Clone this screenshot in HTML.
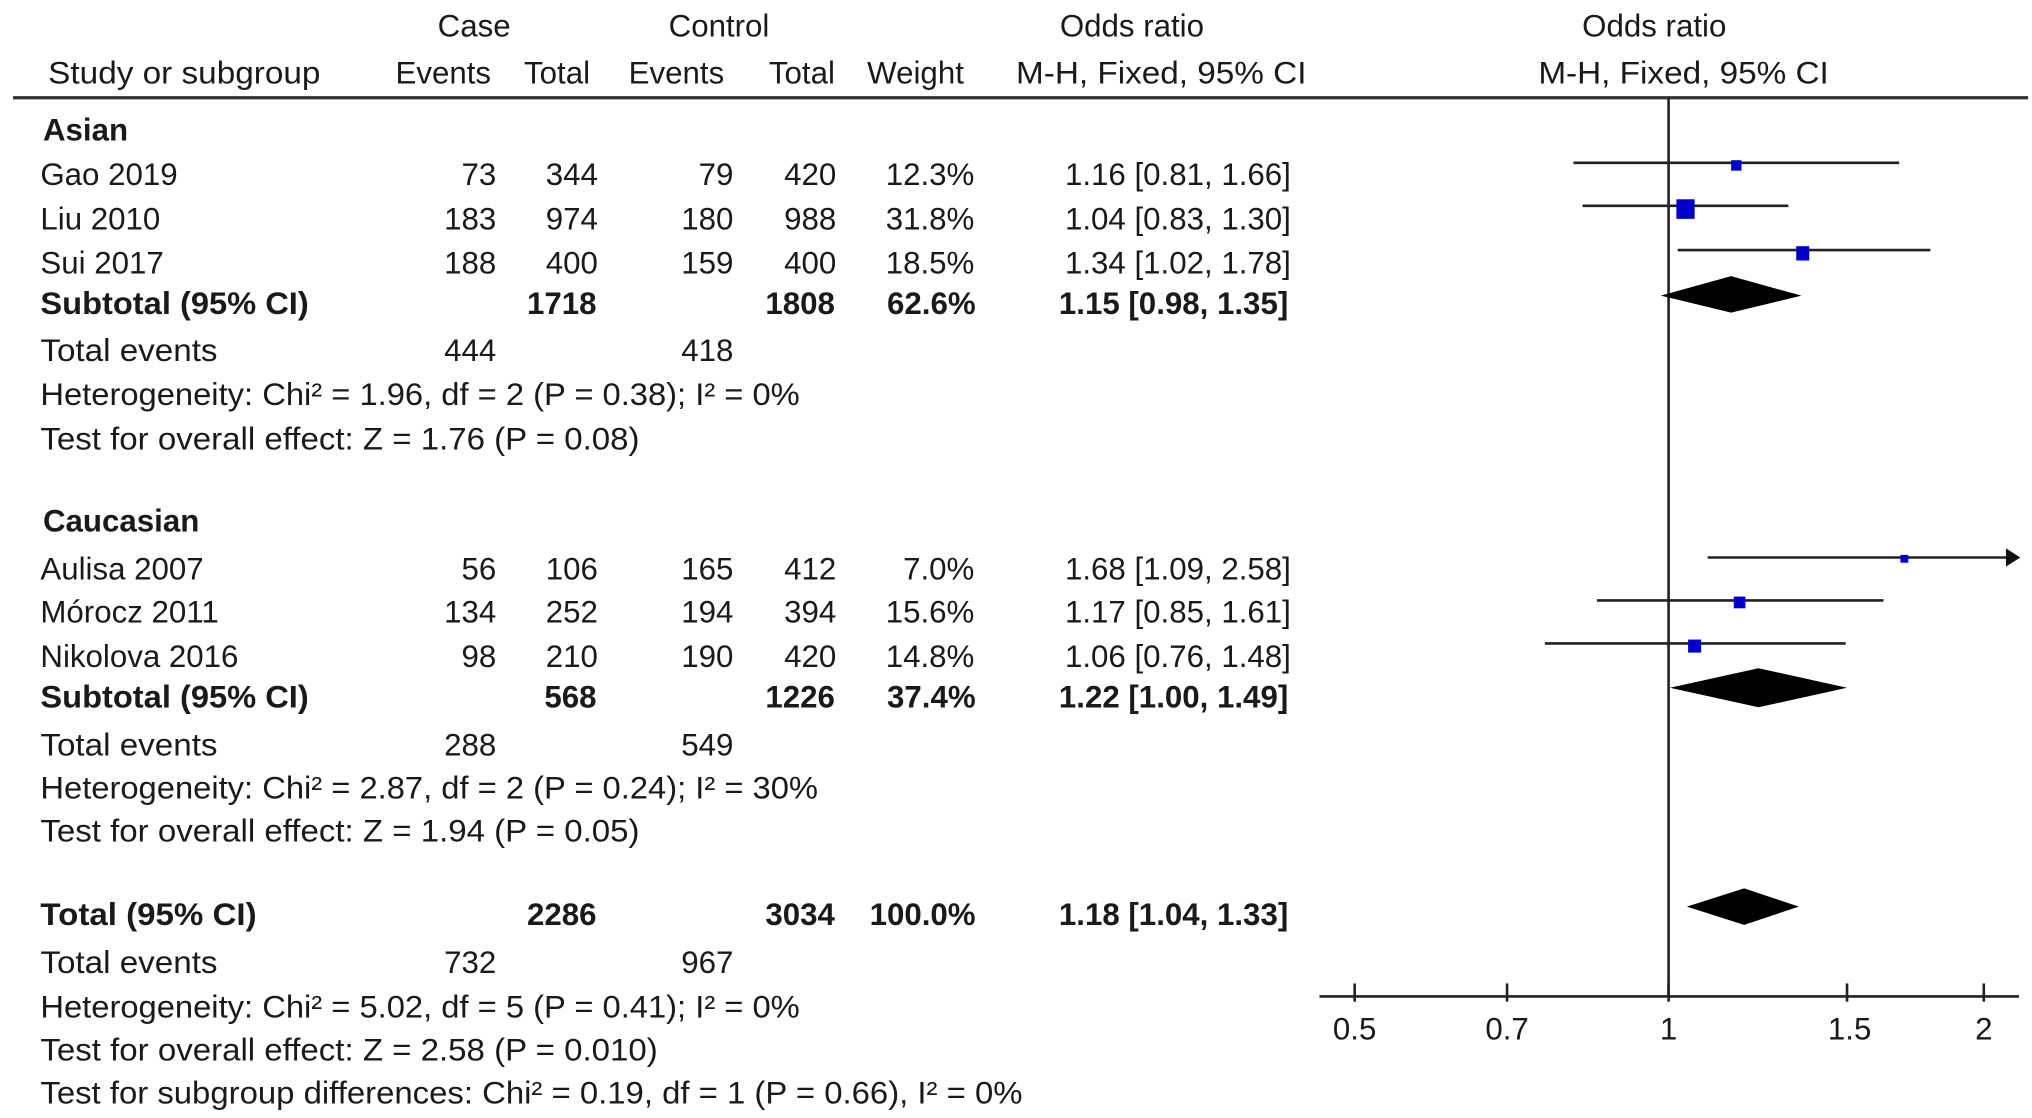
<!DOCTYPE html>
<html><head><meta charset="utf-8"><style>
html,body{margin:0;padding:0;background:#fff;}
svg{display:block;}
text{font-family:"Liberation Sans",Arial,sans-serif;font-size:24px;fill:#1a1a1a;}
.b{font-weight:bold;}
.e{text-anchor:end;}
.m{text-anchor:middle;}
</style></head><body>
<svg width="2032" height="1118" viewBox="0 0 1560 858.3" preserveAspectRatio="none" xmlns="http://www.w3.org/2000/svg">
<!-- header -->
<text class="m" x="364" y="28">Case</text>
<text class="m" x="552" y="28">Control</text>
<text class="m" x="869" y="28">Odds ratio</text>
<text class="m" x="1270" y="28">Odds ratio</text>
<text x="37" y="64" textLength="209" lengthAdjust="spacingAndGlyphs">Study or subgroup</text>
<text class="e" x="377" y="64">Events</text>
<text class="e" x="453" y="64">Total</text>
<text class="e" x="556" y="64">Events</text>
<text class="e" x="641" y="64">Total</text>
<text class="e" x="740" y="64">Weight</text>
<text x="780" y="64" textLength="223" lengthAdjust="spacingAndGlyphs">M-H, Fixed, 95% CI</text>
<text x="1181" y="64" textLength="223" lengthAdjust="spacingAndGlyphs">M-H, Fixed, 95% CI</text>
<line x1="10" y1="75" x2="1557" y2="75" stroke="#333" stroke-width="2.5"/>

<!-- Asian -->
<text class="b" x="33" y="108">Asian</text>
<text x="31" y="142">Gao 2019</text><text class="e" x="381" y="142">73</text><text class="e" x="459" y="142">344</text><text class="e" x="563" y="142">79</text><text class="e" x="642" y="142">420</text><text class="e" x="748" y="142">12.3%</text><text class="e" x="991" y="142">1.16 [0.81, 1.66]</text>
<text x="31" y="176">Liu 2010</text><text class="e" x="381" y="176">183</text><text class="e" x="459" y="176">974</text><text class="e" x="563" y="176">180</text><text class="e" x="642" y="176">988</text><text class="e" x="748" y="176">31.8%</text><text class="e" x="991" y="176">1.04 [0.83, 1.30]</text>
<text x="31" y="210">Sui 2017</text><text class="e" x="381" y="210">188</text><text class="e" x="459" y="210">400</text><text class="e" x="563" y="210">159</text><text class="e" x="642" y="210">400</text><text class="e" x="748" y="210">18.5%</text><text class="e" x="991" y="210">1.34 [1.02, 1.78]</text>
<text class="b" x="31" y="241" textLength="206" lengthAdjust="spacingAndGlyphs">Subtotal (95% CI)</text><text class="b e" x="458" y="241">1718</text><text class="b e" x="641" y="241">1808</text><text class="b e" x="749" y="241">62.6%</text><text class="b e" x="989" y="241">1.15 [0.98, 1.35]</text>
<text x="31" y="277" textLength="136" lengthAdjust="spacingAndGlyphs">Total events</text><text class="e" x="381" y="277">444</text><text class="e" x="563" y="277">418</text>
<text x="31" y="311" textLength="583" lengthAdjust="spacingAndGlyphs">Heterogeneity: Chi² = 1.96, df = 2 (P = 0.38); I² = 0%</text>
<text x="31" y="345" textLength="460" lengthAdjust="spacingAndGlyphs">Test for overall effect: Z = 1.76 (P = 0.08)</text>

<!-- Caucasian -->
<text class="b" x="33" y="408">Caucasian</text>
<text x="31" y="445">Aulisa 2007</text><text class="e" x="381" y="445">56</text><text class="e" x="459" y="445">106</text><text class="e" x="563" y="445">165</text><text class="e" x="642" y="445">412</text><text class="e" x="748" y="445">7.0%</text><text class="e" x="991" y="445">1.68 [1.09, 2.58]</text>
<text x="31" y="478">Mórocz 2011</text><text class="e" x="381" y="478">134</text><text class="e" x="459" y="478">252</text><text class="e" x="563" y="478">194</text><text class="e" x="642" y="478">394</text><text class="e" x="748" y="478">15.6%</text><text class="e" x="991" y="478">1.17 [0.85, 1.61]</text>
<text x="31" y="512">Nikolova 2016</text><text class="e" x="381" y="512">98</text><text class="e" x="459" y="512">210</text><text class="e" x="563" y="512">190</text><text class="e" x="642" y="512">420</text><text class="e" x="748" y="512">14.8%</text><text class="e" x="991" y="512">1.06 [0.76, 1.48]</text>
<text class="b" x="31" y="543" textLength="206" lengthAdjust="spacingAndGlyphs">Subtotal (95% CI)</text><text class="b e" x="458" y="543">568</text><text class="b e" x="641" y="543">1226</text><text class="b e" x="749" y="543">37.4%</text><text class="b e" x="989" y="543">1.22 [1.00, 1.49]</text>
<text x="31" y="580" textLength="136" lengthAdjust="spacingAndGlyphs">Total events</text><text class="e" x="381" y="580">288</text><text class="e" x="563" y="580">549</text>
<text x="31" y="613" textLength="597" lengthAdjust="spacingAndGlyphs">Heterogeneity: Chi² = 2.87, df = 2 (P = 0.24); I² = 30%</text>
<text x="31" y="646" textLength="460" lengthAdjust="spacingAndGlyphs">Test for overall effect: Z = 1.94 (P = 0.05)</text>

<!-- Total -->
<text class="b" x="31" y="710" textLength="166" lengthAdjust="spacingAndGlyphs">Total (95% CI)</text><text class="b e" x="458" y="710">2286</text><text class="b e" x="641" y="710">3034</text><text class="b e" x="749" y="710">100.0%</text><text class="b e" x="989" y="710">1.18 [1.04, 1.33]</text>
<text x="31" y="747" textLength="136" lengthAdjust="spacingAndGlyphs">Total events</text><text class="e" x="381" y="747">732</text><text class="e" x="563" y="747">967</text>
<text x="31" y="781" textLength="583" lengthAdjust="spacingAndGlyphs">Heterogeneity: Chi² = 5.02, df = 5 (P = 0.41); I² = 0%</text>
<text x="31" y="814" textLength="474" lengthAdjust="spacingAndGlyphs">Test for overall effect: Z = 2.58 (P = 0.010)</text>
<text x="31" y="847" textLength="754" lengthAdjust="spacingAndGlyphs">Test for subgroup differences: Chi² = 0.19, df = 1 (P = 0.66), I² = 0%</text>

<!-- forest plot -->
<g stroke="#222" stroke-width="2">
<line x1="1281" y1="75" x2="1281" y2="765"/>
<line x1="1013" y1="765" x2="1550" y2="765"/>
<line x1="1040" y1="755" x2="1040" y2="769"/>
<line x1="1157" y1="755" x2="1157" y2="769"/>
<line x1="1281" y1="755" x2="1281" y2="769"/>
<line x1="1418" y1="755" x2="1418" y2="769"/>
<line x1="1523" y1="755" x2="1523" y2="769"/>
<line x1="1208" y1="125" x2="1458" y2="125"/>
<line x1="1215" y1="158" x2="1373" y2="158"/>
<line x1="1288" y1="192" x2="1482" y2="192"/>
<line x1="1311" y1="428" x2="1543" y2="428"/>
<line x1="1226" y1="461" x2="1446" y2="461"/>
<line x1="1186" y1="494" x2="1417" y2="494"/>
</g>
<polygon points="1540,421 1551,428 1540,435" fill="#111"/>
<g fill="#0000cc">
<rect x="1329" y="123" width="8" height="8"/>
<rect x="1287" y="153" width="14" height="15"/>
<rect x="1379" y="189" width="10" height="11"/>
<rect x="1459" y="426" width="6" height="6"/>
<rect x="1331" y="458" width="9" height="9"/>
<rect x="1296" y="491" width="10" height="10"/>
</g>
<g fill="#000">
<polygon points="1275,227 1329,212 1383,227 1329,240"/>
<polygon points="1282,528 1350,513 1418,528 1350,543"/>
<polygon points="1295,696 1339,682 1381,696 1339,710"/>
</g>
<text class="m" x="1040" y="798">0.5</text>
<text class="m" x="1157" y="798">0.7</text>
<text class="m" x="1281" y="798">1</text>
<text class="m" x="1420" y="798">1.5</text>
<text class="m" x="1523" y="798">2</text>
</svg>
</body></html>
